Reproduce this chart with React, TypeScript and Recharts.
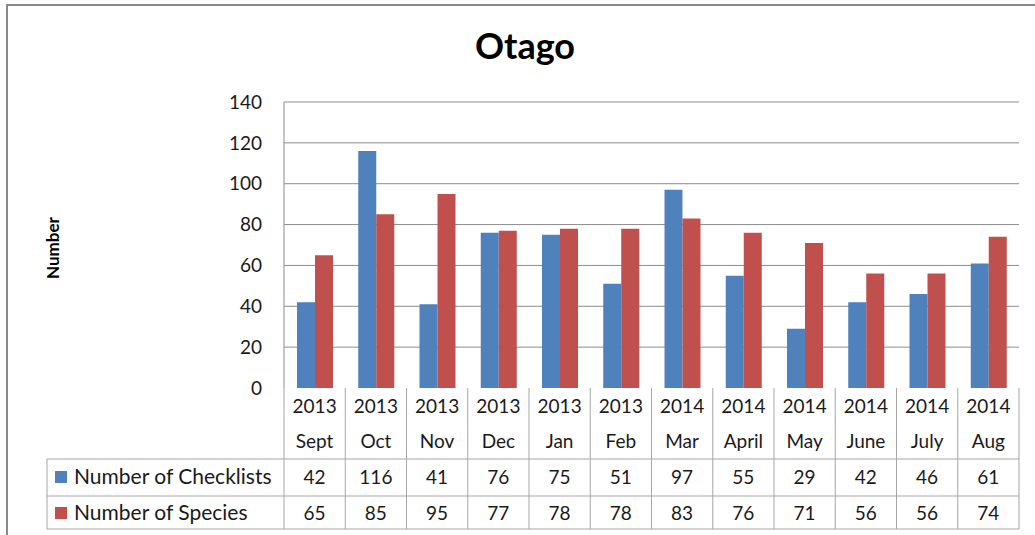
import React from "react";
import { BarChart, Bar, XAxis, YAxis, CartesianGrid } from "recharts";

const years = ["2013", "2013", "2013", "2013", "2013", "2013", "2014", "2014", "2014", "2014", "2014", "2014"];
const months = ["Sept", "Oct", "Nov", "Dec", "Jan", "Feb", "Mar", "April", "May", "June", "July", "Aug"];
const checklists = [42, 116, 41, 76, 75, 51, 97, 55, 29, 42, 46, 61];
const species = [65, 85, 95, 77, 78, 78, 83, 76, 71, 56, 56, 74];
const yTicks = [0, 20, 40, 60, 80, 100, 120, 140];

const seriesNames = ["Number of Checklists", "Number of Species"];
const BLUE = "#4f81bd";
const RED = "#c0504d";
const FONT = "Lato, 'Noto Sans', sans-serif";

const W = 1035;
const H = 535;
const PLOT_LEFT = 284;
const PLOT_RIGHT = 1019;
const PLOT_BOTTOM = 388;
const TABLE_LEFT = 47;
const ROW_TOP = 459;
const ROW_MID = 496;
const ROW_BOTTOM = 529;
const LINE = "#a6a6a6";

const data = months.map((m, i) => ({
  key: `${years[i]}-${m}`,
  year: years[i],
  month: m,
  checklists: checklists[i],
  species: species[i],
}));

const colW = (PLOT_RIGHT - PLOT_LEFT) / data.length;

function TableTick(props: any) {
  const { x, index } = props;
  const d = data[index];
  if (!d) return null;
  const half = colW / 2;
  const txt = { fontFamily: FONT, fontSize: 19, fill: "#1a1a1a", textAnchor: "middle" as const };
  return (
    <g>
      {index === 0 && (
        <g>
          <line x1={x - half} y1={PLOT_BOTTOM} x2={x - half} y2={ROW_BOTTOM} stroke={LINE} />
          <line x1={TABLE_LEFT} y1={ROW_TOP} x2={PLOT_RIGHT} y2={ROW_TOP} stroke={LINE} />
          <line x1={TABLE_LEFT} y1={ROW_MID} x2={PLOT_RIGHT} y2={ROW_MID} stroke={LINE} />
          <line x1={TABLE_LEFT} y1={ROW_BOTTOM} x2={PLOT_RIGHT} y2={ROW_BOTTOM} stroke={LINE} />
          <line x1={TABLE_LEFT} y1={ROW_TOP} x2={TABLE_LEFT} y2={ROW_BOTTOM} stroke={LINE} />
          <rect x={55} y={471} width={12} height={12} fill={BLUE} />
          <rect x={55} y={507} width={12} height={12} fill={RED} />
          <text x={74} y={484} fontFamily={FONT} fontSize={21} fill="#1a1a1a">{seriesNames[0]}</text>
          <text x={74} y={520} fontFamily={FONT} fontSize={21} fill="#1a1a1a">{seriesNames[1]}</text>
        </g>
      )}
      <line x1={x + half} y1={PLOT_BOTTOM} x2={x + half} y2={ROW_BOTTOM} stroke={LINE} />
      <text x={x} y={413} {...txt}>{d.year}</text>
      <text x={x} y={448} {...txt}>{d.month}</text>
      <text x={x} y={484} {...txt}>{d.checklists}</text>
      <text x={x} y={520} {...txt}>{d.species}</text>
    </g>
  );
}

export default function App() {
  return (
    <div style={{ position: "absolute", left: 0, top: 0, width: W, height: H, background: "#fff", overflow: "hidden" }}>
      <div
        style={{
          position: "absolute",
          left: 6,
          top: 4,
          width: W,
          height: H,
          border: "2px solid #8a8a8a",
          boxSizing: "border-box",
        }}
      />
      <div
        style={{
          position: "absolute",
          left: 0,
          width: 1050,
          top: 25,
          textAlign: "center",
          fontFamily: FONT,
          fontWeight: 700,
          fontSize: 36,
          lineHeight: "40px",
          color: "#000",
        }}
      >
        Otago
      </div>
      <div
        style={{
          position: "absolute",
          left: 52,
          top: 248,
          transform: "translate(-50%, -50%) rotate(-90deg)",
          fontFamily: FONT,
          fontWeight: 700,
          fontSize: 17,
          color: "#000",
          whiteSpace: "nowrap",
        }}
      >
        Number
      </div>
      <div style={{ position: "absolute", left: 0, top: 0 }}>
        <BarChart
          width={W}
          height={H}
          data={data}
          margin={{ top: 102, right: W - PLOT_RIGHT, bottom: 0, left: 0 }}
          barGap={0}
          barSize={18}
        >
          <CartesianGrid
            vertical={false}
            stroke="#8c8c8c"
            horizontalValues={yTicks.filter((t) => t > 0)}
          />
          <XAxis
            dataKey="key"
            height={H - PLOT_BOTTOM}
            axisLine={false}
            tickLine={false}
            interval={0}
            tick={<TableTick />}
          />
          <YAxis
            width={PLOT_LEFT}
            domain={[0, 140]}
            ticks={yTicks}
            interval={0}
            axisLine={{ stroke: "#8c8c8c" }}
            tickLine={false}
            tickSize={0}
            tickMargin={22}
            tick={{ fontFamily: FONT, fontSize: 19, fill: "#1a1a1a" }}
          />
          <Bar dataKey="checklists" name={seriesNames[0]} fill={BLUE} isAnimationActive={false} />
          <Bar dataKey="species" name={seriesNames[1]} fill={RED} isAnimationActive={false} />
        </BarChart>
      </div>
    </div>
  );
}
